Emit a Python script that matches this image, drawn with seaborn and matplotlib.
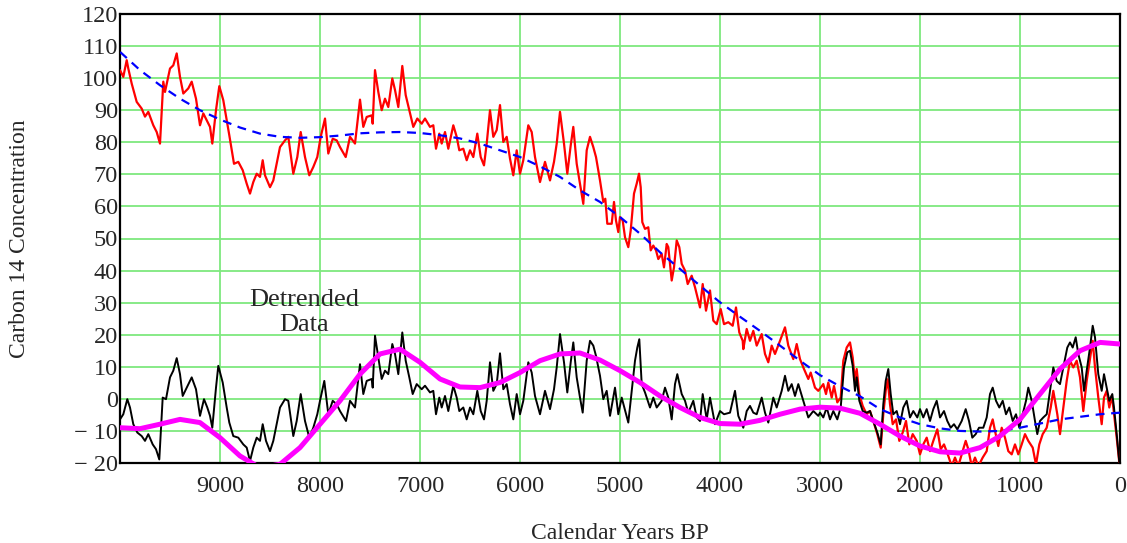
import matplotlib
matplotlib.use("Agg")
import matplotlib.pyplot as plt
import seaborn as sns
import pandas as pd

# ===== DATA =====
# red: raw carbon 14 series
raw_years = [10000, 9967, 9933, 9917, 9883, 9833, 9783, 9750, 9717, 9667, 9633, 9600, 9567, 9550,
             9500, 9467, 9433, 9400, 9367, 9317, 9283, 9240, 9200, 9167, 9133, 9100, 9077, 9040,
             9007, 8967, 8933, 8907, 8860, 8817, 8773, 8733, 8700, 8667, 8633, 8600, 8573, 8550,
             8500, 8467, 8433, 8400, 8350, 8317, 8267, 8227, 8193, 8150, 8107, 8067, 8027, 7993,
             7950, 7917, 7873, 7833, 7800, 7743, 7700, 7650, 7600, 7567, 7533, 7483, 7473, 7450,
             7417, 7383, 7350, 7317, 7277, 7250, 7217, 7177, 7143, 7107, 7067, 7027, 6983, 6950,
             6900, 6867, 6840, 6807, 6783, 6750, 6717, 6667, 6633, 6607, 6567, 6533, 6500, 6467,
             6450, 6427, 6393, 6360, 6333, 6300, 6267, 6233, 6200, 6167, 6133, 6100, 6067, 6033,
             6000, 5967, 5917, 5883, 5850, 5800, 5750, 5700, 5660, 5633, 5600, 5560, 5527, 5493,
             5467, 5433, 5400, 5367, 5333, 5300, 5267, 5240, 5200, 5167, 5147, 5127, 5083, 5060,
             5040, 5017, 5000, 4973, 4950, 4917, 4893, 4860, 4833, 4810, 4793, 4777, 4750, 4717,
             4693, 4667, 4640, 4617, 4583, 4560, 4533, 4517, 4483, 4460, 4433, 4407, 4383, 4350,
             4323, 4283, 4250, 4217, 4200, 4173, 4140, 4100, 4067, 4033, 3993, 3960, 3917, 3873,
             3840, 3807, 3773, 3767, 3733, 3700, 3667, 3633, 3583, 3550, 3517, 3483, 3450, 3400,
             3350, 3317, 3267, 3233, 3200, 3160, 3117, 3093, 3050, 3017, 2967, 2940, 2917, 2883,
             2860, 2827, 2793, 2767, 2733, 2700, 2673, 2650, 2633, 2607, 2573, 2533, 2500, 2467,
             2427, 2393, 2367, 2343, 2323, 2300, 2273, 2240, 2207, 2173, 2140, 2107, 2073, 2033,
             2000, 1967, 1933, 1900, 1867, 1827, 1793, 1760, 1717, 1683, 1650, 1617, 1583, 1543,
             1517, 1483, 1450, 1417, 1373, 1333, 1300, 1273, 1250, 1217, 1183, 1150, 1117, 1083,
             1050, 1017, 983, 950, 917, 873, 840, 807, 773, 733, 693, 667, 627, 600,
             567, 533, 500, 467, 433, 400, 367, 333, 293, 273, 250, 217, 183, 160,
             133, 107, 83, 67, 33, 0]
raw_c14 = [102.5, 100.4, 105.6, 103.0, 98.3, 92.6, 90.5, 88.0, 89.5, 85.3, 83.2, 79.6, 98.9, 95.7,
           103.0, 104.0, 107.7, 100.4, 95.2, 96.8, 98.9, 93.6, 85.3, 89.0, 86.9, 84.8, 79.6, 90.0,
           97.5, 93.1, 86.9, 82.2, 73.3, 73.9, 71.3, 67.1, 64.0, 67.6, 70.2, 69.2, 74.4, 69.7,
           66.0, 68.1, 73.3, 78.5, 80.6, 81.7, 70.2, 75.4, 83.2, 75.4, 69.7, 72.3, 75.4, 81.7,
           87.4, 76.5, 81.1, 80.6, 78.5, 75.4, 81.7, 79.6, 93.3, 84.8, 87.9, 88.4, 85.8, 102.5,
           95.7, 90.0, 93.6, 91.0, 99.9, 96.3, 91.0, 103.8, 94.7, 90.0, 84.8, 87.4, 85.8, 87.4,
           84.8, 85.3, 78.0, 82.7, 79.6, 83.2, 78.0, 85.3, 81.7, 77.5, 78.0, 74.4, 77.5, 75.4,
           78.5, 82.7, 75.4, 72.8, 79.6, 90.0, 81.7, 83.8, 91.6, 80.1, 81.7, 74.9, 69.7, 77.5,
           70.2, 74.4, 85.3, 83.2, 75.4, 67.6, 73.9, 68.1, 73.9, 79.6, 89.5, 79.6, 70.2, 79.0,
           84.8, 73.3, 67.1, 60.8, 77.5, 81.7, 78.5, 75.4, 68.1, 61.4, 62.4, 54.6, 54.6, 61.4,
           55.6, 52.0, 56.7, 55.6, 50.4, 47.3, 52.5, 64.0, 67.1, 70.2, 66.0, 55.1, 53.0, 53.5,
           46.3, 47.8, 46.3, 43.6, 45.2, 41.0, 48.3, 47.3, 36.9, 41.0, 49.4, 47.3, 42.1, 40.0,
           35.8, 38.4, 34.8, 30.6, 28.5, 35.8, 27.5, 33.8, 24.4, 23.3, 28.0, 23.3, 23.9, 22.8,
           28.5, 20.7, 18.1, 15.5, 21.8, 18.1, 21.2, 16.6, 20.2, 14.0, 11.4, 16.6, 14.0, 18.1,
           22.3, 16.6, 12.4, 17.1, 12.4, 9.3, 6.2, 8.2, 3.5, 2.5, 4.6, 1.5, 5.1, 0.4,
           4.0, -1.1, 0.4, 11.9, 16.0, 17.6, 12.9, 5.6, 9.3, 1.5, -2.2, -4.8, -3.8, -6.9,
           -11.0, -15.2, -4.8, 2.5, 6.1, -1.7, -7.9, -6.4, -13.1, -10.5, -6.9, -14.2, -11.0, -13.1,
           -17.3, -14.2, -12.1, -16.3, -13.1, -9.5, -15.7, -14.2, -17.8, -21.0, -18.3, -21.0, -17.3, -13.1,
           -15.7, -21.0, -18.3, -21.0, -18.3, -16.3, -9.0, -6.4, -10.0, -14.7, -9.0, -12.1, -16.3, -17.3,
           -14.2, -17.3, -14.2, -11.0, -13.1, -15.2, -20.5, -14.2, -11.0, -9.0, -2.7, 2.5, -4.8, -11.0,
           -2.7, 5.6, 11.9, 9.8, 11.9, 6.7, -3.8, 5.6, 14.0, 18.1, 9.8, 0.4, -7.9, 0.4,
           2.5, -2.7, 0.9, -2.7, -12.1, -22.0]

# blue dashed: long-term trend
trend_years = [10000, 9800, 9600, 9400, 9200, 9000, 8800, 8600, 8400, 8200, 8000, 7800, 7600,
               7400, 7200, 7000, 6800, 6600, 6400, 6200, 6000, 5800, 5600, 5400, 5200, 5000,
               4800, 4600, 4400, 4200, 4000, 3800, 3600, 3400, 3200, 3000, 2800, 2600, 2400,
               2200, 2000, 1800, 1600, 1400, 1200, 1000, 800, 600, 400, 200, 0]
trend_c14 = [108.2, 102.5, 97.8, 93.6, 90.0, 87.1, 84.6, 82.7, 81.7, 81.4, 81.6, 82.1, 82.8,
             83.1, 83.2, 82.9, 82.2, 81.2, 79.6, 77.5, 75.4, 72.5, 69.2, 65.0, 61.4, 56.7,
             51.5, 45.7, 40.5, 35.3, 30.1, 25.6, 21.2, 16.6, 11.9, 7.4, 3.9, 0.8, -3.2,
             -5.8, -7.9, -9.2, -10.0, -10.2, -10.0, -9.0, -7.7, -6.4, -5.6, -4.8, -4.3]

# black: detrended data
detr_years = [10000, 9967, 9927, 9900, 9867, 9827, 9783, 9750, 9717, 9673, 9640, 9607, 9573, 9540,
              9500, 9467, 9433, 9400, 9373, 9333, 9283, 9240, 9200, 9160, 9127, 9100, 9077, 9040,
              9017, 8973, 8933, 8907, 8867, 8817, 8767, 8733, 8700, 8667, 8633, 8600, 8573, 8540,
              8500, 8467, 8433, 8400, 8350, 8317, 8267, 8233, 8193, 8150, 8107, 8067, 8027, 8000,
              7957, 7917, 7873, 7833, 7800, 7740, 7700, 7650, 7600, 7567, 7533, 7483, 7473, 7450,
              7417, 7383, 7350, 7317, 7277, 7250, 7217, 7177, 7143, 7107, 7073, 7033, 6983, 6950,
              6900, 6867, 6840, 6807, 6783, 6750, 6717, 6667, 6633, 6607, 6567, 6533, 6500, 6467,
              6427, 6393, 6360, 6333, 6300, 6267, 6233, 6200, 6167, 6133, 6100, 6067, 6033, 6000,
              5967, 5917, 5883, 5850, 5800, 5750, 5700, 5660, 5633, 5600, 5560, 5527, 5493, 5467,
              5433, 5400, 5373, 5333, 5300, 5267, 5240, 5200, 5167, 5133, 5100, 5050, 5017, 4983,
              4917, 4883, 4850, 4827, 4807, 4783, 4750, 4700, 4667, 4633, 4583, 4550, 4517, 4483,
              4450, 4427, 4383, 4350, 4317, 4267, 4233, 4200, 4173, 4133, 4100, 4050, 4000, 3960,
              3900, 3850, 3817, 3767, 3733, 3700, 3667, 3633, 3583, 3550, 3517, 3467, 3433, 3383,
              3350, 3317, 3283, 3250, 3217, 3167, 3117, 3067, 3017, 3000, 2967, 2933, 2900, 2867,
              2827, 2793, 2760, 2727, 2700, 2673, 2650, 2633, 2607, 2573, 2533, 2500, 2467, 2427,
              2393, 2367, 2343, 2317, 2293, 2267, 2233, 2200, 2167, 2133, 2100, 2067, 2027, 2000,
              1967, 1933, 1900, 1867, 1833, 1800, 1760, 1727, 1693, 1660, 1627, 1583, 1543, 1510,
              1477, 1443, 1410, 1367, 1333, 1300, 1273, 1240, 1207, 1173, 1140, 1107, 1073, 1040,
              1007, 973, 940, 917, 883, 850, 827, 800, 767, 733, 700, 667, 633, 600,
              560, 527, 500, 473, 443, 417, 383, 360, 333, 300, 273, 250, 217, 183,
              160, 133, 107, 77, 60, 33, 0]
detr_c14 = [-6.4, -4.8, -0.1, -2.7, -7.9, -10.5, -11.6, -13.1, -11.0, -14.2, -15.7, -18.9, 0.4, -0.1,
            6.7, 8.8, 12.7, 7.7, 0.9, 3.5, 6.7, 3.0, -5.3, -0.1, -2.7, -5.3, -9.0, 3.5,
            10.3, 5.1, -2.7, -7.4, -11.6, -12.1, -14.2, -15.2, -19.4, -15.2, -12.1, -13.1, -7.9, -13.1,
            -16.3, -13.1, -7.9, -2.7, -0.1, -0.6, -11.6, -6.9, 1.5, -6.9, -12.1, -9.0, -4.8, -0.6,
            5.6, -4.8, -0.6, -1.7, -3.8, -6.9, -0.6, -2.7, 10.8, 1.5, 5.6, 6.2, 3.5, 19.7,
            12.9, 6.2, 8.8, 7.7, 17.1, 14.0, 7.7, 20.7, 11.9, 6.7, 1.5, 4.6, 3.0, 4.1,
            2.0, 2.5, -4.8, 0.4, -2.7, 0.9, -3.8, 4.1, 0.4, -3.8, -2.7, -6.4, -2.7, -4.8,
            2.5, -3.8, -6.4, -0.6, 11.4, 2.5, 4.6, 14.2, 3.0, 4.6, -1.7, -6.4, 1.5, -4.8,
            -0.6, 11.4, 8.2, 0.9, -4.8, 2.5, -3.2, 3.0, 9.8, 20.2, 11.4, 2.0, 11.4, 17.6,
            6.7, 0.4, -4.3, 11.9, 18.1, 16.6, 13.4, 7.2, -0.1, 2.5, -5.3, 3.5, -4.8, 0.4,
            -7.4, 2.5, 11.9, 16.0, 18.6, 4.6, 2.0, -2.7, 0.4, -2.7, -0.6, 3.5, 0.4, -6.4,
            4.6, 7.7, 1.5, -0.6, -4.3, -0.6, -5.8, -6.9, 1.5, -6.4, 0.4, -7.9, -3.8, -4.8,
            -4.3, 2.5, -5.3, -9.0, -3.8, -2.2, -4.3, -4.8, 0.4, -4.3, -7.4, 0.4, -2.7, 2.5,
            7.2, 2.5, 4.6, 0.9, 4.6, -0.6, -5.8, -3.8, -5.3, -4.3, -5.8, -2.7, -6.4, -3.8,
            -6.4, -2.7, 9.8, 14.5, 15.0, 10.3, 2.5, 6.7, -0.6, -3.8, -4.3, -3.8, -6.9, -10.5,
            -14.2, -1.7, 5.6, 9.3, 1.5, -4.8, -3.8, -7.9, -2.7, -0.6, -5.8, -3.8, -5.8, -3.2,
            -5.8, -3.2, -6.9, -3.2, -0.6, -5.8, -3.8, -6.9, -9.0, -7.9, -9.5, -6.9, -3.2, -6.9,
            -12.1, -11.0, -9.0, -9.0, -5.8, 1.5, 3.5, -0.6, -2.7, -0.6, -4.8, -2.7, -6.9, -4.8,
            -9.0, -4.8, -0.6, 3.5, -0.6, -6.9, -11.0, -6.9, -5.8, -4.8, 2.5, 9.8, 5.6, 4.6,
            10.8, 16.0, 17.6, 16.0, 19.2, 14.0, 9.8, 2.5, 8.8, 16.0, 22.8, 19.2, 7.7, 2.5,
            7.7, 3.5, -0.6, 1.5, -2.7, -11.0, -22.0]

# magenta: smooth cycle fit to the detrended data
fit_years = [10000, 9800, 9600, 9400, 9200, 9000, 8800, 8600, 8400, 8200, 8000, 7800, 7600,
             7400, 7200, 7000, 6800, 6600, 6400, 6200, 6000, 5800, 5600, 5400, 5200, 5000,
             4800, 4600, 4400, 4200, 4000, 3800, 3600, 3400, 3200, 3000, 2800, 2600, 2400,
             2200, 2000, 1800, 1600, 1400, 1200, 1000, 800, 600, 400, 200, 0]
fit_c14 = [-9.0, -9.3, -7.9, -6.4, -7.4, -12.1, -17.8, -21.5, -20.4, -15.2, -7.9, -0.6, 7.7,
           14.0, 15.5, 11.4, 6.2, 3.7, 3.5, 5.1, 8.2, 11.9, 14.0, 14.3, 12.1, 8.8,
           5.1, 0.9, -2.7, -5.8, -7.7, -7.9, -6.7, -4.8, -3.2, -2.6, -2.9, -4.5, -7.9,
           -11.6, -14.7, -16.5, -16.9, -15.2, -11.6, -6.4, 1.5, 9.3, 15.0, 17.6, 17.1]

x_ticks = [9000, 8000, 7000, 6000, 5000, 4000, 3000, 2000, 1000, 0]
x_ticklabels = ["9000", "8000", "7000", "6000", "5000", "4000", "3000", "2000", "1000", "0"]
y_ticks = [-20, -10, 0, 10, 20, 30, 40, 50, 60, 70, 80, 90, 100, 110, 120]
y_ticklabels = ["\u2212 20", "\u2212 10", "0", "10", "20", "30", "40", "50", "60", "70",
                "80", "90", "100", "110", "120"]
# =========================================

sns.set_style("white")
plt.rcParams["font.family"] = ["Liberation Serif", "DejaVu Serif"]

raw = pd.DataFrame({"year": raw_years, "c14": raw_c14})
trend = pd.DataFrame({"year": trend_years, "c14": trend_c14})
detr = pd.DataFrame({"year": detr_years, "c14": detr_c14})
fit = pd.DataFrame({"year": fit_years, "c14": fit_c14})

fig = plt.figure(figsize=(11.27, 5.43), dpi=100)
ax = fig.add_axes([120 / 1127, 80 / 543, 1000 / 1127, 449 / 543])

sns.lineplot(data=raw, x="year", y="c14", ax=ax, color="#ff0000", linewidth=1.6, zorder=3)
sns.lineplot(data=detr, x="year", y="c14", ax=ax, color="black", linewidth=1.4, zorder=4)
sns.lineplot(data=trend, x="year", y="c14", ax=ax, color="#0000ff", linewidth=1.6, zorder=5)
ax.lines[-1].set_dashes([4, 3])
sns.lineplot(data=fit, x="year", y="c14", ax=ax, color="#ff00ff", linewidth=3.6, zorder=6)

ax.set_xlim(10000, 0)
ax.set_ylim(-20, 120)
ax.set_xticks(x_ticks)
ax.set_xticklabels(x_ticklabels)
ax.set_yticks(y_ticks)
ax.set_yticklabels(y_ticklabels)
ax.tick_params(axis="both", length=0, labelsize=17.5)
ax.tick_params(axis="x", pad=9)
ax.tick_params(axis="y", pad=1.5)

ax.grid(True, color="#7ee87e", linewidth=1.3)
ax.set_axisbelow(True)
for sp in ax.spines.values():
    sp.set_visible(True)
    sp.set_color("black")
    sp.set_linewidth(1.6)

ax.set_xlabel("Calendar Years BP", fontsize=17, va="center")
ax.xaxis.set_label_coords(0.5, -0.156)
ax.set_ylabel("Carbon 14 Concentration", fontsize=17, va="center")
ax.yaxis.set_label_coords(-0.1, 0.5)

ax.text(8160, 27.0, "Detrended\nData", ha="center", va="center", fontsize=19,
        linespacing=1.15, zorder=7)

fig.savefig("out.png", dpi=100)
